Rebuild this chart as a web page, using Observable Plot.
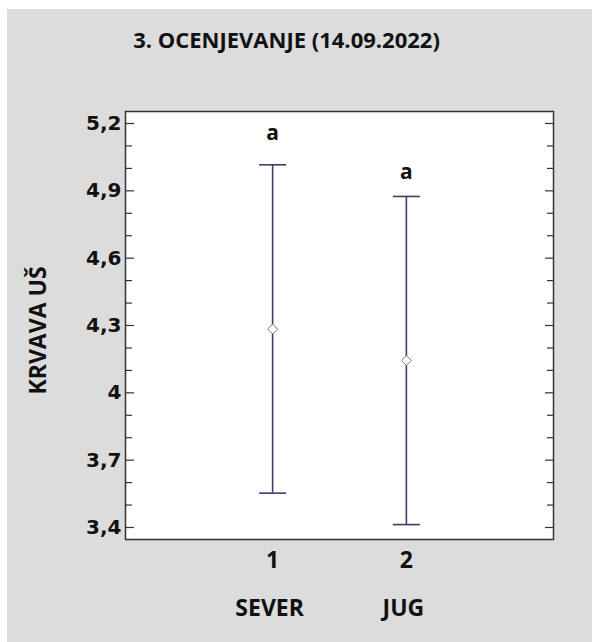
<!DOCTYPE html>
<html>
<head>
<meta charset="utf-8">
<script src="https://cdn.jsdelivr.net/npm/d3@7"></script>
<script src="https://cdn.jsdelivr.net/npm/@observablehq/plot@0.6"></script>
<style>
  html, body { margin: 0; padding: 0; background: #ffffff; }
  #wrap { position: absolute; left: 7px; top: 9px; width: 585px; height: 633px; background: #dcdcdc; overflow: hidden; }
  #title { height: 62px; line-height: 60px; text-align: center; padding-right: 26px;
           font-family: "Open Sans", sans-serif; font-weight: 700; font-size: 22px; color: #111; }
  #chart svg { display: block; }
</style>
</head>
<body>
<div id="wrap">
  <div id="title"></div>
  <div id="chart"></div>
</div>
<script>
const title = "3. OCENJEVANJE (14.09.2022)";
const yLabel = "KRVAVA UŠ";
const groups = ["SEVER", "JUG"];
const groupX = [1, 2];
const means = [4.284, 4.144];
const lower = [3.553, 3.413];
const upper = [5.016, 4.875];
const letters = ["a", "a"];
const letterY = [5.155, 4.983];
const yMajor = [3.4, 3.7, 4, 4.3, 4.6, 4.9, 5.2];
const yMinor = [3.5, 3.6, 3.8, 3.9, 4.1, 4.2, 4.4, 4.5, 4.7, 4.8, 5.0, 5.1];

const data = groups.map((g, i) => ({
  group: g, x: groupX[i], mean: means[i], lo: lower[i], hi: upper[i],
  letter: letters[i], ly: letterY[i]
}));

document.getElementById("title").textContent = title;

const fmt = d => String(d).replace(".", ",");
const barColor = "#3d3d70";
const capSymbol = { draw(ctx, size) { const r = Math.sqrt(size / Math.PI); ctx.moveTo(-r, 0); ctx.lineTo(r, 0); } };

const chart = Plot.plot({
  width: 585, height: 571,
  marginTop: 40, marginBottom: 103, marginLeft: 118, marginRight: 39,
  style: { background: "transparent", overflow: "visible" },
  x: { domain: [-0.1, 3.1] },
  y: { domain: [3.3465, 5.2535] },
  marks: [
    Plot.frame({ fill: "white", stroke: null }),
    Plot.axisY(yMajor, { anchor: "left", tickSize: 0, tickPadding: 4, tickFormat: fmt,
      fontSize: 20, fontWeight: "bold", fontFamily: "DejaVu Sans", fill: "#111", label: null }),
    Plot.axisY(yMajor, { anchor: "left", tickSize: -9, fill: "none", stroke: "#333", strokeWidth: 1.2, label: null }),
    Plot.axisY(yMinor, { anchor: "left", tickSize: -7, fill: "none", stroke: "#333", strokeWidth: 1.2, label: null }),
    Plot.axisY(yMajor, { anchor: "right", tickSize: -9, fill: "none", stroke: "#333", strokeWidth: 1.2, label: null }),
    Plot.axisY(yMinor, { anchor: "right", tickSize: -7, fill: "none", stroke: "#333", strokeWidth: 1.2, label: null }),
    Plot.axisX(groupX, { anchor: "bottom", tickSize: 0, tickPadding: 12, tickFormat: d => String(d),
      fontSize: 23, fontWeight: "bold", fontFamily: "Open Sans", fill: "#111", label: null }),
    Plot.axisX(groupX, { anchor: "bottom", tickSize: 0, tickPadding: 60, tickFormat: d => groups[groupX.indexOf(d)],
      fontSize: 23, fontWeight: "bold", fontFamily: "Open Sans", fill: "#111", dx: -3, label: null }),
    Plot.text([yLabel], { frameAnchor: "left", text: d => d, textAnchor: "middle", rotate: -90, dx: -87, dy: 5,
      fontSize: 23, fontWeight: "bold", fontFamily: "Open Sans", fill: "#111" }),
    Plot.ruleX(data, { x: "x", y1: "lo", y2: "hi", stroke: barColor, strokeWidth: 1.6 }),
    Plot.dot(data, { x: "x", y: "hi", symbol: capSymbol, r: 13.5, stroke: barColor, strokeWidth: 1.6, fill: "none" }),
    Plot.dot(data, { x: "x", y: "lo", symbol: capSymbol, r: 13.5, stroke: barColor, strokeWidth: 1.6, fill: "none" }),
    Plot.dot(data, { x: "x", y: "mean", symbol: "diamond2", r: 4.5, stroke: "#777", strokeWidth: 1, fill: "white" }),
    Plot.text(data, { x: "x", y: "ly", text: "letter", fontSize: 21, fontWeight: "bold", fontFamily: "Open Sans", fill: "#111" }),
    Plot.frame({ stroke: "#333", strokeWidth: 1.5 })
  ]
});
document.getElementById("chart").appendChild(chart);
</script>
</body>
</html>
